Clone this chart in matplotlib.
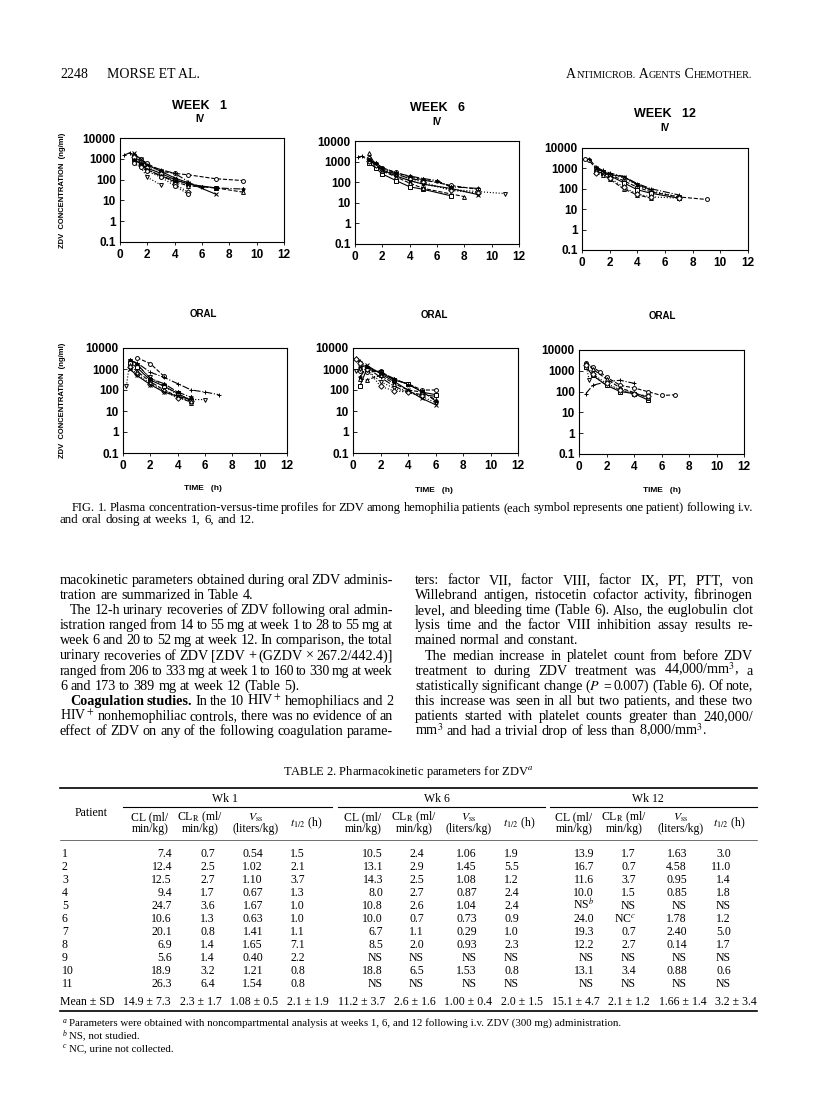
import matplotlib
matplotlib.use("Agg")
import matplotlib.pyplot as plt
from matplotlib.lines import Line2D

plt.rcParams['font.family'] = 'Liberation Serif'
plt.rcParams['mathtext.fontset'] = 'stix'

# ---------------- data: Fig. 1 (ZDV concentration, ng/ml vs time, h) ----------------
wk1_iv_t = [[1, 1.5, 2, 3, 4, 5, 7, 9], [0.3, 0.75, 1, 1.5, 2, 3, 4, 5],
            [1, 1.5, 2, 3], [1, 1.5, 2, 3, 4, 5, 7], [1, 1.5, 2, 3, 4, 5, 7, 9],
            [1, 1.5, 2, 3, 4, 5], [1, 1.5, 2, 3, 4, 5, 7], [1, 1.5, 2, 3, 4, 5, 6, 7, 9],
            [1, 1.5, 2, 3, 4, 5]]
wk1_iv_c = [[1500, 1000, 600, 250, 200, 170, 110, 90], [1500, 2000, 1200, 800, 500, 300, 200, 80],
            [700, 400, 130, 55], [1000, 600, 350, 200, 100, 60, 40], [800, 500, 300, 150, 80, 50, 40, 25],
            [1200, 700, 400, 200, 60, 25], [1800, 1000, 500, 250, 120, 70, 20],
            [900, 600, 300, 150, 90, 70, 45, 40, 35], [600, 400, 250, 130, 50, 20]]

wk6_iv_t = [[1, 1.5, 2, 3, 4, 5, 7, 9], [0.25, 0.5, 1, 1.5, 2, 3, 4, 5, 6, 7, 9],
            [1, 1.5, 2, 3, 4, 5, 7, 9, 11], [1, 1.5, 2, 3, 4, 5, 7], [1, 1.5, 2, 3, 4, 5, 8],
            [1, 1.5, 2, 3, 4, 5, 7, 9], [1, 2, 3, 4, 5, 7, 9], [1, 1.5, 2, 3, 4, 5, 6, 7]]
wk6_iv_c = [[1500, 800, 500, 300, 180, 130, 70, 45], [1700, 1800, 1200, 700, 400, 250, 150, 120, 110, 60, 50],
            [1000, 600, 400, 200, 120, 80, 45, 35, 28], [900, 500, 250, 120, 60, 45, 22],
            [2500, 700, 350, 180, 90, 50, 20], [1100, 650, 450, 250, 150, 100, 40, 30],
            [1300, 400, 200, 120, 80, 50, 25], [1200, 900, 500, 280, 200, 150, 120, 60]]

wk12_iv_t = [[0.25, 0.5, 1, 1.5, 2, 3, 4, 5, 7, 9], [0.5, 1, 1.5, 2, 3, 4, 5, 7],
             [1, 1.5, 2, 3, 4, 5, 7], [1, 1.5, 2, 3, 4, 5, 7], [1, 1.5, 2, 3, 4, 5],
             [1, 2, 3, 4, 5, 7], [1, 1.5, 2, 3, 4, 5]]
wk12_iv_c = [[3000, 2500, 1000, 700, 500, 250, 120, 70, 40, 30], [3000, 1200, 800, 600, 400, 180, 100, 50],
             [900, 700, 500, 350, 150, 80, 40], [700, 600, 450, 200, 90, 60, 35],
             [800, 500, 300, 100, 50, 35], [600, 350, 120, 55, 40, 35], [1100, 700, 500, 400, 160, 90]]

wk1_or_t = [[1, 2, 3], [0.5, 1, 2, 3, 4, 5, 6, 7], [0.25, 0.5, 1, 2, 3, 4, 5, 6],
            [0.5, 1, 2, 3, 4, 5], [0.5, 1, 2, 3, 4, 5], [0.5, 1, 2, 3, 4, 5],
            [0.5, 1, 2, 3, 4, 5], [0.5, 1, 2, 3, 4, 5]]
wk1_or_c = [[3500, 1800, 450], [2500, 2000, 700, 400, 200, 100, 80, 60],
            [150, 2500, 1500, 400, 150, 60, 35, 35], [2000, 1200, 300, 150, 70, 30],
            [1500, 800, 250, 100, 50, 25], [1200, 600, 200, 90, 40, 30],
            [1000, 500, 180, 80, 50, 35], [2800, 1800, 350, 200, 80, 45]]

wk6_or_t = [[0.5, 1, 2, 3, 4, 5, 6], [0.25, 0.5, 1, 2, 3, 4, 5, 6], [0.25, 0.5, 1, 2, 3, 4, 5, 6],
            [0.5, 1, 2, 3, 4, 5, 6], [0.5, 1, 2, 3, 4, 5, 6], [0.25, 0.5, 1, 2, 3, 4, 5],
            [0.5, 1, 2, 3, 4, 5, 6], [0.5, 1, 2, 3, 4, 5, 6]]
wk6_or_c = [[800, 700, 800, 300, 200, 100, 100], [3500, 2500, 1200, 400, 150, 80, 60, 50],
            [800, 1000, 900, 250, 120, 80, 50, 25], [150, 1000, 700, 300, 200, 80, 60],
            [350, 300, 500, 200, 100, 80, 35], [3000, 2000, 1000, 150, 90, 80, 50],
            [1200, 1500, 600, 250, 100, 40, 20], [400, 1200, 700, 350, 180, 90, 30]]

wk12_or_t = [[0.5, 1, 1.5, 2, 3, 4, 5, 6, 7], [0.5, 1, 2, 3, 4], [0.5, 0.75, 1, 2, 3, 4, 5],
             [0.5, 1, 2, 3, 4, 5], [0.5, 1, 2, 3, 4, 5], [0.5, 1, 2, 3, 4, 5]]
wk12_or_c = [[2500, 1500, 900, 500, 200, 150, 100, 65, 70], [80, 200, 300, 350, 250],
             [2000, 350, 600, 200, 120, 80, 60], [1500, 600, 200, 100, 80, 40],
             [2500, 1200, 400, 150, 90, 50], [1800, 700, 250, 120, 80, 60]]

x_ticks = [0, 2, 4, 6, 8, 10, 12]
y_ticks = [0.1, 1, 10, 100, 1000, 10000]
y_tick_labels = ['0.1', '1', '10', '100', '1000', '10000']

# ---------------- data: Table 2 ----------------
patients = ['1', '2', '3', '4', '5', '6', '7', '8', '9', '10', '11']
wk1_cl = ['7.4', '12.4', '12.5', '9.4', '24.7', '10.6', '20.1', '6.9', '5.6', '18.9', '26.3']
wk1_clr = ['0.7', '2.5', '2.7', '1.7', '3.6', '1.3', '0.8', '1.4', '1.4', '3.2', '6.4']
wk1_vss = ['0.54', '1.02', '1.10', '0.67', '1.67', '0.63', '1.41', '1.65', '0.40', '1.21', '1.54']
wk1_thalf = ['1.5', '2.1', '3.7', '1.3', '1.0', '1.0', '1.1', '7.1', '2.2', '0.8', '0.8']
wk6_cl = ['10.5', '13.1', '14.3', '8.0', '10.8', '10.0', '6.7', '8.5', 'NS', '18.8', 'NS']
wk6_clr = ['2.4', '2.9', '2.5', '2.7', '2.6', '0.7', '1.1', '2.0', 'NS', '6.5', 'NS']
wk6_vss = ['1.06', '1.45', '1.08', '0.87', '1.04', '0.73', '0.29', '0.93', 'NS', '1.53', 'NS']
wk6_thalf = ['1.9', '5.5', '1.2', '2.4', '2.4', '0.9', '1.0', '2.3', 'NS', '0.8', 'NS']
wk12_cl = ['13.9', '16.7', '11.6', '10.0', 'NS$^b$', '24.0', '19.3', '12.2', 'NS', '13.1', 'NS']
wk12_clr = ['1.7', '0.7', '3.7', '1.5', 'NS', 'NC$^c$', '0.7', '2.7', 'NS', '3.4', 'NS']
wk12_vss = ['1.63', '4.58', '0.95', '0.85', 'NS', '1.78', '2.40', '0.14', 'NS', '0.88', 'NS']
wk12_thalf = ['3.0', '11.0', '1.4', '1.8', 'NS', '1.2', '5.0', '1.7', 'NS', '0.6', 'NS']
mean_row = ['Mean ± SD', '14.9 ± 7.3', '2.3 ± 1.7', '1.08 ± 0.5', '2.1 ± 1.9', '11.2 ± 3.7', '2.6 ± 1.6',
            '1.00 ± 0.4', '2.0 ± 1.5', '15.1 ± 4.7', '2.1 ± 1.2', '1.66 ± 1.4', '3.2 ± 3.4']
col_head_1 = ['CL (ml/', 'CL$_{\\rm R}$ (ml/', '$V_{\\rm ss}$', '$t_{1/2}$ (h)']
col_head_2 = ['min/kg)', 'min/kg)', '(liters/kg)', '']

# ---------------- body text ----------------
left_lines = ["macokinetic parameters obtained during oral ZDV adminis-",
              "tration are summarized in Table 4.",
              "The 12-h urinary recoveries of ZDV following oral admin-",
              "istration ranged from 14 to 55 mg at week 1 to 28 to 55 mg at",
              "week 6 and 20 to 52 mg at week 12. In comparison, the total",
              "urinary recoveries of ZDV [ZDV + (GZDV × 267.2/442.4)]",
              "ranged from 206 to 333 mg at week 1 to 160 to 330 mg at week",
              "6 and 173 to 389 mg at week 12 (Table 5).",
              "*Coagulation *studies. In the 10 HIV$^+$ hemophiliacs and 2",
              "HIV$^+$ nonhemophiliac controls, there was no evidence of an",
              "effect of ZDV on any of the following coagulation parame-"]
right_lines = ["ters: factor VII, factor VIII, factor IX, PT, PTT, von",
               "Willebrand antigen, ristocetin cofactor activity, fibrinogen",
               "level, and bleeding time (Table 6). Also, the euglobulin clot",
               "lysis time and the factor VIII inhibition assay results re-",
               "mained normal and constant.",
               "The median increase in platelet count from before ZDV",
               "treatment to during ZDV treatment was 44,000/mm$^3$, a",
               "statistically significant change ($P$ = 0.007) (Table 6). Of note,",
               "this increase was seen in all but two patients, and these two",
               "patients started with platelet counts greater than 240,000/",
               "mm$^3$ and had a trivial drop of less than 8,000/mm$^3$."]
left_indent = [0, 0, 1, 0, 0, 0, 0, 0, 1, 0, 0]
left_last = [0, 1, 0, 0, 0, 0, 0, 1, 0, 0, 0]
right_indent = [0, 0, 0, 0, 0, 1, 0, 0, 0, 0, 0]
right_last = [0, 0, 0, 0, 1, 0, 0, 0, 0, 0, 1]

W, H = 816, 1101
fig = plt.figure(figsize=(8.16, 11.01), dpi=100)
renderer = fig.canvas.get_renderer()


def fx(px):
    return px / W


def fy(py):
    return 1 - py / H


def put(px, py, s, **kw):
    kw.setdefault('va', 'baseline')
    return fig.text(fx(px), fy(py), s, **kw)


def width(s, **kw):
    t = fig.text(0, 0, s, **kw)
    w = t.get_window_extent(renderer).width
    t.remove()
    return w


def hline(x0, x1, py, lw=0.6):
    fig.add_artist(Line2D([fx(x0), fx(x1)], [fy(py), fy(py)], transform=fig.transFigure,
                          color='black', lw=lw))


def justify(x0, x1, py, line, last=False, fontsize=10):
    words = line.split(' ')
    bold = [w.startswith('*') for w in words]
    words = [w.lstrip('*') for w in words]
    wt = ['bold' if b else 'normal' for b in bold]
    while True:
        ws = [width(w, fontweight=b, fontsize=fontsize) for w, b in zip(words, wt)]
        space = width('a a', fontsize=fontsize) - width('aa', fontsize=fontsize)
        if last or len(words) == 1:
            gap = space
            break
        gap = (x1 - x0 - sum(ws)) / (len(words) - 1)
        if gap >= 0.7 * space or fontsize < 6:
            break
        fontsize -= 0.2
    x = x0
    for w, b, ww in zip(words, wt, ws):
        put(x, py, w, fontweight=b, fontsize=fontsize)
        x += ww + gap


# ---------------- running head ----------------
put(60, 78, '2248', fontsize=10)
put(107, 78, 'MORSE ET AL.', fontsize=10)
head_runs = [('A', 10), ('NTIMICROB.', 7.3), (' A', 10), ('GENTS', 7.3), (' C', 10), ('HEMOTHER.', 7.3)]
tot = sum(width(s, fontsize=f) for s, f in head_runs)
x = 752 - tot
for s, f in head_runs:
    put(x, 78, s, fontsize=f)
    x += width(s, fontsize=f)

# ---------------- Fig. 1 panels ----------------
styles = [('o', '--'), ('+', '-.'), ('v', ':'), ('s', '-'), ('^', '--'), ('D', ':'),
          ('x', '-'), ('*', '-.'), ('o', ':'), ('+', '--'), ('v', '-')]

panels = [
    ((120, 138, 284, 242), wk1_iv_t, wk1_iv_c),
    ((355, 141, 519, 244), wk6_iv_t, wk6_iv_c),
    ((582, 148, 748, 250), wk12_iv_t, wk12_iv_c),
    ((123, 348, 287, 453), wk1_or_t, wk1_or_c),
    ((353, 348, 518, 453), wk6_or_t, wk6_or_c),
    ((579, 350, 744, 454), wk12_or_t, wk12_or_c),
]
sans = 'Liberation Sans'
for (l, t, r, b), ts, cs in panels:
    ax = fig.add_axes([fx(l), fy(b), (r - l) / W, (b - t) / H])
    for i, (tt, cc) in enumerate(zip(ts, cs)):
        m, ls = styles[i % len(styles)]
        ax.plot(tt, cc, ls=ls, marker=m, color='black', lw=0.8, ms=2.8,
                mfc='white' if m in 'os^vD' else 'black', mew=0.7)
    ax.set_yscale('log')
    ax.set_xlim(0, 12)
    ax.set_ylim(0.1, 10000)
    ax.set_xticks(x_ticks)
    ax.set_yticks(y_ticks)
    ax.set_yticklabels(y_tick_labels)
    ax.tick_params(axis='x', direction='out', length=2, width=0.6, pad=3)
    ax.tick_params(axis='y', which='major', direction='in', length=3, width=0.6, pad=3)
    ax.tick_params(axis='y', which='minor', direction='in', length=1.5, width=0.5)
    for lab in ax.get_xticklabels() + ax.get_yticklabels():
        lab.set_family(sans)
        lab.set_fontweight('bold')
        lab.set_fontsize(8.5)
    for sp in ax.spines.values():
        sp.set_linewidth(0.8)

bold_sans = dict(family=sans, fontweight='bold', ha='center', va='center')
for xc, y1, y2, wk in [(200, 106, 119, 'WEEK   1'), (437, 108, 122, 'WEEK   6'), (665, 114, 128, 'WEEK   12')]:
    put(xc, y1, wk, fontsize=9, **bold_sans)
    put(xc, y2, 'IV', fontsize=7, **bold_sans)
for xc, y1, y2 in [(203, 314, 489), (434, 315, 491), (662, 316, 491)]:
    put(xc, y1, 'ORAL', fontsize=7, **bold_sans)
    put(xc, y2, 'TIME   (h)', fontsize=6, **bold_sans)
for yc in [190, 400]:
    put(63, yc, 'ZDV  CONCENTRATION  (ng/ml)', fontsize=5.5, rotation=90, **bold_sans)

# ---------------- caption ----------------
justify(72, 753, 511, 'FIG. 1. Plasma concentration-versus-time profiles for ZDV among hemophilia patients '
                      '(each symbol represents one patient) following i.v.', fontsize=9.4)
justify(60, 753, 523, 'and oral dosing at weeks 1, 6, and 12.', last=True, fontsize=9.4)

# ---------------- body text ----------------
for i, line in enumerate(left_lines):
    justify(60 + 10 * left_indent[i], 393, 584 + i * 15.1, line, last=left_last[i], fontsize=10.2)
for i, line in enumerate(right_lines):
    justify(415 + 10 * right_indent[i], 753, 584 + i * 15.1, line, last=right_last[i], fontsize=10.2)

# ---------------- Table 2 ----------------
put(408, 775, 'TABLE 2. Pharmacokinetic parameters for ZDV$^a$', fontsize=9, ha='center')
hline(60, 757, 788, lw=1.2)
for xc, lab, x0, x1 in [(225, 'Wk 1', 123, 332), (437, 'Wk 6', 338, 545), (648, 'Wk 12', 550, 757)]:
    put(xc, 802, lab, fontsize=8.5, ha='center')
    hline(x0, x1, 807, lw=0.8)
put(91, 816, 'Patient', fontsize=8.5, ha='center')
head_x = [150, 200, 256, 306, 363, 414, 469, 519, 574, 624, 681, 729]
for j, xc in enumerate(head_x):
    k = j % 4
    if k == 3:
        put(xc, 826, col_head_1[k], fontsize=8.5, ha='center')
    else:
        put(xc, 820, col_head_1[k], fontsize=8.5, ha='center')
        put(xc, 832, col_head_2[k], fontsize=8.5, ha='center')
hline(60, 757, 840, lw=0.4)
cols = [wk1_cl, wk1_clr, wk1_vss, wk1_thalf, wk6_cl, wk6_clr, wk6_vss, wk6_thalf,
        wk12_cl, wk12_clr, wk12_vss, wk12_thalf]
col_right = [172, 215, 263, 305, 383, 424, 477, 519, 594, 636, 687, 731]
for i, p in enumerate(patients):
    yy = 857 + i * 13.0
    put(62, yy, p, fontsize=8.5)
    for col, xr in zip(cols, col_right):
        put(xr, yy, col[i], fontsize=8.5, ha='right')
justify(60, 757, 1005, ' '.join(s.replace(' ', '\u00a0') for s in mean_row), fontsize=8.5)
hline(60, 757, 1011, lw=1.2)

notes = [('a', 'Parameters were obtained with noncompartmental analysis at weeks 1, 6, and 12 '
               'following i.v. ZDV (300 mg) administration.'),
         ('b', 'NS, not studied.'),
         ('c', 'NC, urine not collected.')]
for i, (sup, txt) in enumerate(notes):
    yy = 1026 + i * 12.5
    put(63, yy - 3, sup, fontsize=5.5, style='italic')
    put(69, yy, txt, fontsize=7.8)

fig.savefig('out.png', dpi=100)
